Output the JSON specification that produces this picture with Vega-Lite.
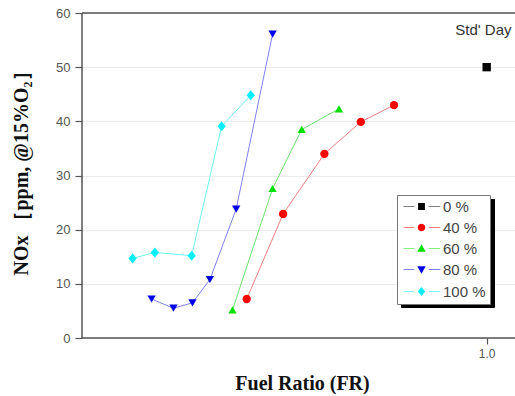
{
  "$schema": "https://vega.github.io/schema/vega-lite/v6.json",
  "width": 433,
  "height": 325,
  "autosize": {"type": "none"},
  "padding": {"left": 82, "top": 13, "right": 0, "bottom": 58},
  "background": "white",
  "view": {"stroke": null},
  "config": {
    "view": {"stroke": null},
    "font": "Liberation Sans",
    "axisX": {
      "grid": false, "format": ".1f", "domain": false,
      "tickColor": "#555555", "tickSize": 6, "tickWidth": 1.2,
      "labelColor": "#555555", "labelFont": "Liberation Sans", "labelFontSize": 12, "labelPadding": 4,
      "titleFont": "Liberation Serif", "titleFontSize": 20, "titleFontWeight": "bold", "titleColor": "#111111",
      "titleX": 220, "titleY": 51, "titleBaseline": "alphabetic", "titleAlign": "center"
    },
    "axisY": {
      "grid": true, "gridColor": "#ebebeb", "domain": false,
      "tickColor": "#555555", "tickSize": 7, "tickWidth": 1.2,
      "labelColor": "#555555", "labelFont": "Liberation Sans", "labelFontSize": 13, "labelPadding": 5,
      "titleFont": "Liberation Serif", "titleFontSize": 20, "titleFontWeight": "bold", "titleColor": "#111111",
      "titleX": -55, "titleY": 155, "titleAngle": 270, "titleBaseline": "alphabetic", "titleAlign": "center"
    },
    "axisRight": {"domain": false, "ticks": false, "labels": false, "grid": false, "titleOpacity": 0},
    "axisTop": {"domain": false, "ticks": false, "labels": false, "grid": false, "titleOpacity": 0}
  },
  "datasets": {
    "nox": [
      {"series": "0 %", "fr": 1.0, "nox": 50.0},
      {"series": "40 %", "fr": 0.407, "nox": 7.2},
      {"series": "40 %", "fr": 0.497, "nox": 22.9},
      {"series": "40 %", "fr": 0.599, "nox": 34.0},
      {"series": "40 %", "fr": 0.689, "nox": 39.9},
      {"series": "40 %", "fr": 0.771, "nox": 43.0},
      {"series": "60 %", "fr": 0.372, "nox": 5.2},
      {"series": "60 %", "fr": 0.471, "nox": 27.6},
      {"series": "60 %", "fr": 0.543, "nox": 38.5},
      {"series": "60 %", "fr": 0.635, "nox": 42.3},
      {"series": "80 %", "fr": 0.172, "nox": 7.2},
      {"series": "80 %", "fr": 0.226, "nox": 5.5},
      {"series": "80 %", "fr": 0.273, "nox": 6.5},
      {"series": "80 %", "fr": 0.316, "nox": 10.8},
      {"series": "80 %", "fr": 0.381, "nox": 23.8},
      {"series": "80 %", "fr": 0.471, "nox": 56.1},
      {"series": "100 %", "fr": 0.125, "nox": 14.7},
      {"series": "100 %", "fr": 0.18, "nox": 15.8},
      {"series": "100 %", "fr": 0.271, "nox": 15.2},
      {"series": "100 %", "fr": 0.345, "nox": 39.1},
      {"series": "100 %", "fr": 0.417, "nox": 44.8}
    ],
    "note": [{"fr": 0.992, "nox": 55.9, "label": "Std' Day"}],
    "frame": [
      {"fr": 0, "fr2": 1.07, "nox": 60, "nox2": 60},
      {"fr": 0, "fr2": 1.07, "nox": 0, "nox2": 0},
      {"fr": 0, "fr2": 0, "nox": 0, "nox2": 60}
    ]
  },
  "layer": [
    {
      "data": {"name": "frame"},
      "mark": {"type": "rule", "color": "#555555", "strokeWidth": 1.5},
      "encoding": {
        "x": {"field": "fr", "type": "quantitative", "scale": {"domain": [0, 1.07], "nice": false, "zero": false},
              "axis": {"title": "Fuel Ratio (FR)", "values": [1.0], "orient": "bottom"}},
        "x2": {"field": "fr2"},
        "y": {"field": "nox", "type": "quantitative", "scale": {"domain": [0, 60], "nice": false},
              "axis": {"title": "NOx ［ppm, @15%O₂］", "values": [0, 10, 20, 30, 40, 50, 60], "orient": "left"}},
        "y2": {"field": "nox2"}
      }
    },
    {
      "data": {"name": "note"},
      "mark": {"type": "text", "align": "center", "baseline": "alphabetic", "fontSize": 15, "color": "#333333", "font": "Liberation Sans"},
      "encoding": {
        "x": {"field": "fr", "type": "quantitative", "scale": {"domain": [0, 1.07], "nice": false, "zero": false},
              "axis": {"title": "Fuel Ratio (FR)", "values": [1.0], "orient": "bottom"}},
        "y": {"field": "nox", "type": "quantitative", "scale": {"domain": [0, 60], "nice": false},
              "axis": {"title": "NOx ［ppm, @15%O₂］", "values": [0, 10, 20, 30, 40, 50, 60], "orient": "left"}},
        "text": {"field": "label"}
      }
    },
    {
      "data": {"name": "nox"},
      "mark": {"type": "line", "strokeWidth": 1},
      "encoding": {
        "x": {"field": "fr", "type": "quantitative", "scale": {"domain": [0, 1.07], "nice": false, "zero": false},
              "axis": {"title": "Fuel Ratio (FR)", "values": [1.0], "orient": "bottom"}},
        "y": {"field": "nox", "type": "quantitative", "scale": {"domain": [0, 60], "nice": false},
              "axis": {"title": "NOx ［ppm, @15%O₂］", "values": [0, 10, 20, 30, 40, 50, 60], "orient": "left"}},
        "color": {
          "field": "series",
          "type": "nominal",
          "scale": {"domain": ["0 %", "40 %", "60 %", "80 %", "100 %"], "range": ["#888888", "#f08080", "#70e070", "#8080f0", "#70f0f0"]},
          "legend": {
            "title": null, "orient": "none", "legendX": 319, "legendY": 186,
            "fillColor": "#000000", "strokeColor": "#000000", "padding": 4,
            "symbolOffset": 13, "labelOffset": 14, "rowPadding": 5,
            "labelFont": "Liberation Sans", "labelFontSize": 15, "labelColor": "#000000",
            "symbolType": "M-4.5,0H4.7M0,-1.15V1.15", "symbolSize": 64,
            "symbolFillColor": "#000000", "symbolStrokeColor": "#000000", "symbolStrokeWidth": 1,
            "zindex": 1
          }
        }
      }
    },
    {
      "data": {"name": "nox"},
      "mark": {"type": "point", "filled": true, "size": 70, "opacity": 1, "strokeWidth": 0},
      "encoding": {
        "x": {"field": "fr", "type": "quantitative", "scale": {"domain": [0, 1.07], "nice": false, "zero": false},
              "axis": {"title": "Fuel Ratio (FR)", "values": [1.0], "orient": "bottom"}},
        "y": {"field": "nox", "type": "quantitative", "scale": {"domain": [0, 60], "nice": false},
              "axis": {"title": "NOx ［ppm, @15%O₂］", "values": [0, 10, 20, 30, 40, 50, 60], "orient": "left"}},
        "color": {
          "field": "series",
          "type": "nominal",
          "scale": {"domain": ["0 %", "40 %", "60 %", "80 %", "100 %"], "range": ["#000000", "#ff0000", "#00e000", "#0000e6", "#00f0ff"]},
          "legend": null
        },
        "shape": {
          "field": "series",
          "type": "nominal",
          "scale": {"domain": ["0 %", "40 %", "60 %", "80 %", "100 %"], "range": ["square", "circle", "triangle-up", "triangle-down", "M0,-1.2L1,0L0,1.2L-1,0Z"]},
          "legend": null
        }
      }
    },
    {
      "data": {"name": "nox"},
      "mark": {"type": "point", "filled": true, "size": 70, "opacity": 0, "strokeWidth": 0},
      "encoding": {
        "x": {"field": "fr", "type": "quantitative", "scale": {"domain": [0, 1.07], "nice": false, "zero": false},
              "axis": {"title": "Fuel Ratio (FR)", "values": [1.0], "orient": "bottom"}},
        "y": {"field": "nox", "type": "quantitative", "scale": {"domain": [0, 60], "nice": false},
              "axis": {"title": "NOx ［ppm, @15%O₂］", "values": [0, 10, 20, 30, 40, 50, 60], "orient": "left"}},
        "color": {
          "field": "series",
          "type": "nominal",
          "scale": {"domain": ["0 %", "40 %", "60 %", "80 %", "100 %"], "range": ["#000000", "#ff0000", "#00e000", "#0000e6", "#00f0ff"]},
          "legend": {
            "title": null, "orient": "none", "legendX": 315, "legendY": 182,
            "fillColor": "#ffffff", "strokeColor": "#777777", "padding": 4,
            "symbolOffset": 13, "labelOffset": 14, "rowPadding": 5,
            "labelFont": "Liberation Sans", "labelFontSize": 15, "labelColor": "#444444",
            "symbolSize": 64, "symbolOpacity": 1,
            "zindex": 2
          }
        },
        "shape": {
          "field": "series",
          "type": "nominal",
          "scale": {"domain": ["0 %", "40 %", "60 %", "80 %", "100 %"], "range": [
            "M-4.5,-0.09H-1.8V0.09H-4.5ZM1.8,-0.09H4.7V0.09H1.8ZM-0.85,-0.85H0.85V0.85H-0.85Z",
            "M-4.5,-0.09H-1.8V0.09H-4.5ZM1.8,-0.09H4.7V0.09H1.8ZM0.95,0L0.82,0.48L0.48,0.82L0,0.95L-0.48,0.82L-0.82,0.48L-0.95,0L-0.82,-0.48L-0.48,-0.82L0,-0.95L0.48,-0.82L0.82,-0.48Z",
            "M-4.5,-0.09H-1.8V0.09H-4.5ZM1.8,-0.09H4.7V0.09H1.8ZM0,-1.05L1.05,0.8H-1.05Z",
            "M-4.5,-0.09H-1.8V0.09H-4.5ZM1.8,-0.09H4.7V0.09H1.8ZM0,1.05L1.05,-0.8H-1.05Z",
            "M-4.5,-0.09H-1.8V0.09H-4.5ZM1.8,-0.09H4.7V0.09H1.8ZM0,-1.15L0.9,0L0,1.15L-0.9,0Z"
          ]},
          "legend": {
            "title": null, "orient": "none", "legendX": 315, "legendY": 182,
            "fillColor": "#ffffff", "strokeColor": "#777777", "padding": 4,
            "symbolOffset": 13, "labelOffset": 14, "rowPadding": 5,
            "labelFont": "Liberation Sans", "labelFontSize": 15, "labelColor": "#444444",
            "symbolSize": 64, "symbolOpacity": 1,
            "zindex": 2
          }
        }
      }
    }
  ],
  "resolve": {"scale": {"color": "independent", "shape": "independent"}}
}
